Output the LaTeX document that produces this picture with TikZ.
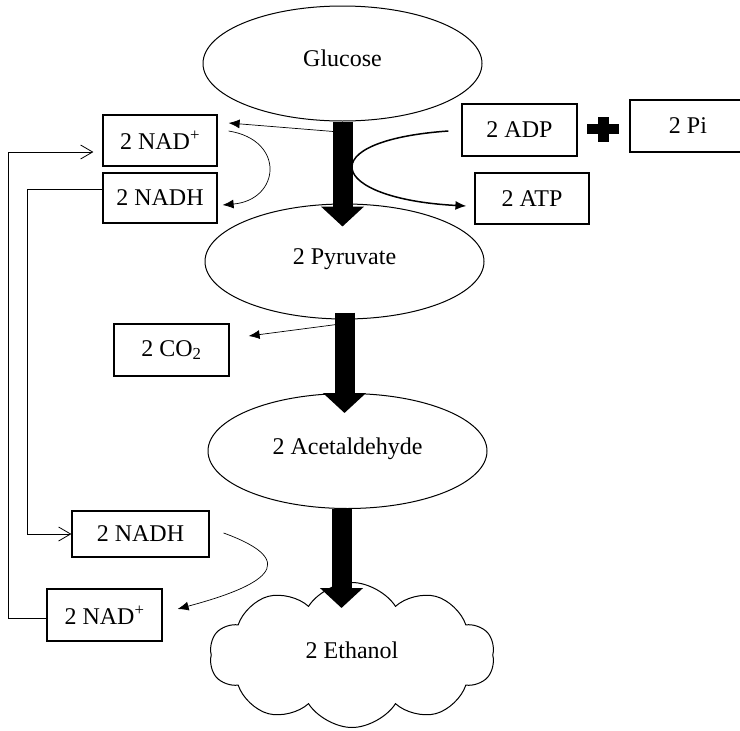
\documentclass[tikz,border=0pt]{standalone}
\usepackage{fontspec}
\setmainfont{Liberation Serif}
\usetikzlibrary{shapes.geometric,shapes.symbols,arrows.meta}

\begin{document}
\begin{tikzpicture}[x=1pt,y=1pt,
  every node/.style={font=\fontsize{24}{28}\selectfont},
  blob/.style={ellipse,draw,line width=1pt,fill=white,minimum width=279pt,minimum height=115pt,inner sep=0pt,text height=17pt,text depth=11pt},
  tag/.style={rectangle,draw,line width=1.2pt,fill=white,minimum width=115pt,minimum height=51pt,inner sep=0pt},
  bigarrow/.style={line width=20pt,-{Triangle[length=20pt 0 0,width=42pt 0]}},
  link/.style={line width=0.7pt,-{Latex[length=11pt 0 0,width=9pt 0]}},
  backline/.style={line width=0.8pt,-{Straight Barb[length=12pt 0 0,width=14pt 0]}}]
\useasboundingbox (0,0) rectangle (740,-731);

\node[blob] (glucose) at (342.5,-63.5) {Glucose};
\node[blob] (pyruvate) at (344.5,-261.5) {2 Pyruvate};
\node[blob] (acet) at (347.5,-451) {2 Acetaldehyde};
\node[cloud,draw,line width=1pt,fill=white,cloud puffs=10,cloud puff arc=115,cloud ignores aspect,
  minimum width=285pt,minimum height=145pt,inner sep=0pt,text height=17pt,text depth=11pt] (ethanol) at (352,-655) {2 Ethanol};

\node[tag,minimum width=114pt] (nadTop) at (160,-140.5) {2 NAD\textsuperscript{+}};
\node[tag,minimum width=114pt,minimum height=50pt] (nadhTop) at (160,-198) {2 NADH};
\node[tag,minimum height=52pt] (adp) at (519.5,-130) {2 ADP};
\node[tag,minimum width=116pt,minimum height=52pt] (pi) at (688,-126) {2 Pi};
\node[tag,minimum width=114pt] (atp) at (532,-198.5) {2 ATP};
\node[tag,minimum height=52pt] (co2) at (171.5,-350) {2 CO\textsubscript{2}};
\node[tag,minimum width=137pt,minimum height=46pt] (nadhBot) at (140.5,-534) {2 NADH};
\node[tag,minimum height=52pt] (nadBot) at (104.5,-615) {2 NAD\textsuperscript{+}};

\coordinate (plus) at (603,-129);
\fill ([xshift=-16pt,yshift=-5pt]plus) rectangle ([xshift=16pt,yshift=5pt]plus);
\fill ([xshift=-5.5pt,yshift=-12.5pt]plus) rectangle ([xshift=5.5pt,yshift=12.5pt]plus);

\draw[bigarrow] (glucose.south) -- ([yshift=-23pt]glucose.south |- pyruvate.north);
\draw[bigarrow] ([yshift=7pt]pyruvate.south) -- ([yshift=-20pt]pyruvate.south |- acet.north);
\draw[bigarrow] ([xshift=-6pt]acet.south) -- ([xshift=-6pt,yshift=-26pt]acet.south |- ethanol.north);

\coordinate (tapA) at ([xshift=-9pt,yshift=-10pt]glucose.south);
\coordinate (tapB) at ([xshift=-8pt,yshift=-5pt]pyruvate.south);
\draw[link] (tapA) -- ([xshift=11pt,yshift=17.5pt]nadTop.east);
\draw[link] ([xshift=11pt,yshift=9.5pt]nadTop.east) to[out=-9,in=5,looseness=2] ([xshift=5pt,yshift=-7pt]nadhTop.east);
\draw[link,line width=1.5pt] ([xshift=-13pt,yshift=-1pt]adp.west) to[out=184,in=177,looseness=4.6] ([xshift=-8pt,yshift=-7.5pt]atp.west);
\draw[link] (tapB) -- ([xshift=19pt,yshift=14pt]co2.east);
\draw[link] ([xshift=14pt,yshift=1pt]nadhBot.east) to[out=-20,in=15,looseness=2.5] ([xshift=15pt,yshift=6pt]nadBot.east);

\coordinate (loopA) at (27,-534);
\coordinate (loopB) at (8,-152);
\draw[backline] ([yshift=9pt]nadhTop.west) -| (loopA) -- (nadhBot.west);
\draw[backline] ([yshift=-3pt]nadBot.west) -| (loopB) -- ([xshift=-9pt,yshift=-11.5pt]nadTop.west);
\end{tikzpicture}
\end{document}
